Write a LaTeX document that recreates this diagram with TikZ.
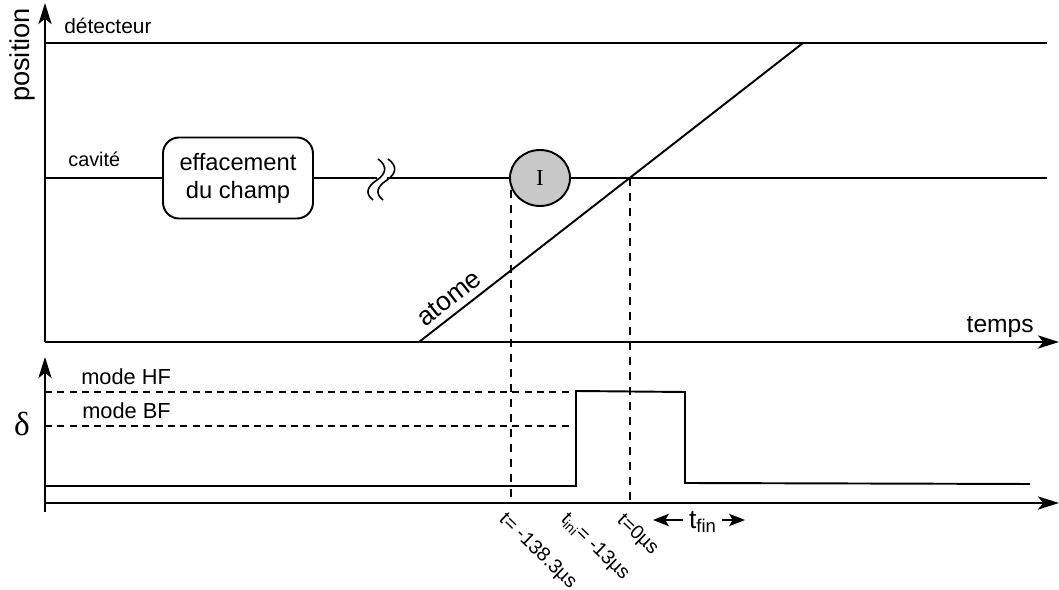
\documentclass[tikz,border=0pt]{standalone}
\usepackage{fontspec}
\setmainfont{Liberation Sans}
\newfontfamily\seriffont{Liberation Serif}
\usetikzlibrary{arrows.meta,shapes.geometric}
\definecolor{discgray}{RGB}{200,200,200}
\begin{document}
\begin{tikzpicture}[x=0.02cm,y=-0.02cm,
  ln/.style={line width=1.1pt},
  axisarrow/.style={line width=1.2pt,-{Stealth[length=12pt,width=7.5pt,inset=3pt]}},
  dsh/.style={line width=1.1pt,dash pattern=on 4.5pt off 4pt},
  hdsh/.style={line width=0.9pt,dash pattern=on 4pt off 3pt},
  smallarrow/.style={line width=1.2pt,-{Stealth[length=9pt,width=7pt,inset=2pt]}},
  wave/.style={line width=0.9pt},
  lbl/.style={inner sep=0pt},
  rlbl/.style={inner sep=0pt,anchor=north west,rotate=-44,font=\fontsize{11.2}{13}\selectfont},
  roundbox/.style={draw,ln,rounded corners=0.32cm,minimum width=3cm,minimum height=1.62cm,align=center,font=\fontsize{13.5}{16}\selectfont},
  disc/.style={draw,ln,ellipse,fill=discgray,minimum width=1.2cm,minimum height=1.12cm,inner sep=0pt,font=\seriffont\fontsize{13}{14}\selectfont}]
\useasboundingbox (0,0) rectangle (1059,590);

% coordinates
\coordinate (o1) at (45,342);
\coordinate (yt) at (45,3);
\coordinate (xt) at (1059,342);
\coordinate (o2) at (45,503);
\coordinate (o2b) at (45,512);
\coordinate (yb) at (45,357);
\coordinate (xb) at (1059,503);
\coordinate (d0) at (45,43);
\coordinate (d1) at (1047,43);
\coordinate (c0) at (45,178);
\coordinate (c1) at (377,178);
\coordinate (c2) at (387,178);
\coordinate (c3) at (1047,178);
\coordinate (a0) at (419,342);
\coordinate (a1) at (803,43);

% axes
\draw[axisarrow] (o1) -- (yt);
\draw[axisarrow] (o1) -- (xt);
\draw[axisarrow] (o2b) -- (yb);
\draw[axisarrow] (o2) -- (xb);

% nodes
\node[roundbox] (box) at (238,178) {effacement\\du champ};
\node[disc] (I) at (540,178) {I};

% detector and cavity lines
\draw[ln] (d0) -- (d1);
\draw[ln] (c0) -- (box.west);
\draw[ln] (box.east) -- (c1);
\draw[ln] (c2) -- (I.west);
\draw[ln] (I.east) -- (c3);

% wavy break marks
\draw[wave] (378,159) .. controls (388,166) and (386,174) .. (377,180) .. controls (368,186) and (364,193) .. (373,200);
\draw[wave] (388,159) .. controls (398,166) and (396,174) .. (387,180) .. controls (378,186) and (374,193) .. (383,200);

% atom trajectory
\draw[ln] (a0) -- (a1);

% dashed time markers
\coordinate (m1t) at (511,190);
\coordinate (m1b) at (511,503);
\coordinate (m2t) at (630,178);
\coordinate (m2b) at (630,503);
\draw[dsh] (m1t) -- (m1b);
\draw[dsh] (m2t) -- (m2b);

% mode levels
\coordinate (hf0) at (45,392);
\coordinate (hf1) at (572,392);
\coordinate (bf0) at (45,426);
\coordinate (bf1) at (572,426);
\draw[hdsh] (hf0) -- (hf1);
\draw[hdsh] (bf0) -- (bf1);

% pulse
\draw[ln] (45,486) -- (576,486) -- (576,391) -- (685,392) -- (685,483) -- (1030,484);

% labels
\node[lbl,font=\fontsize{15.5}{17}\selectfont,rotate=90] (pos) at (22,55) {position};
\node[lbl,anchor=base west,font=\fontsize{11.9}{14}\selectfont] (det) at (64,34) {détecteur};
\node[lbl,anchor=base west,font=\fontsize{11.3}{14}\selectfont] (cav) at (68,167) {cavité};
\node[lbl,anchor=base east,font=\fontsize{14}{16}\selectfont] (temps) at (1034,333) {temps};
\node[lbl,rotate=38,font=\fontsize{15}{16}\selectfont] (atome) at (449,298) {atome};
\node[lbl,anchor=base west,font=\fontsize{12.4}{14}\selectfont] (hf) at (81,385) {mode HF};
\node[lbl,anchor=base west,font=\fontsize{12.4}{14}\selectfont] (bf) at (82,419) {mode BF};
\node[lbl,font=\seriffont\fontsize{19}{20}\selectfont] (delta) at (22,424) {δ};

\node[rlbl] (t1) at (508,510) {t= -138.3µs};
\node[rlbl] (t2) at (570,510) {t\textsubscript{ini}= -13µs};
\node[rlbl] (t3) at (626,511) {t=0µs};

\node[lbl,font=\fontsize{15}{17}\selectfont] (tfin) at (703,522) {t\textsubscript{fin}};
\coordinate (la) at (653,520);
\coordinate (ra) at (745,520);
\draw[smallarrow] (tfin.west) ++(-6,-2) -- (la);
\draw[smallarrow] (tfin.east) ++(5,-2) -- (ra);
\end{tikzpicture}
\end{document}
